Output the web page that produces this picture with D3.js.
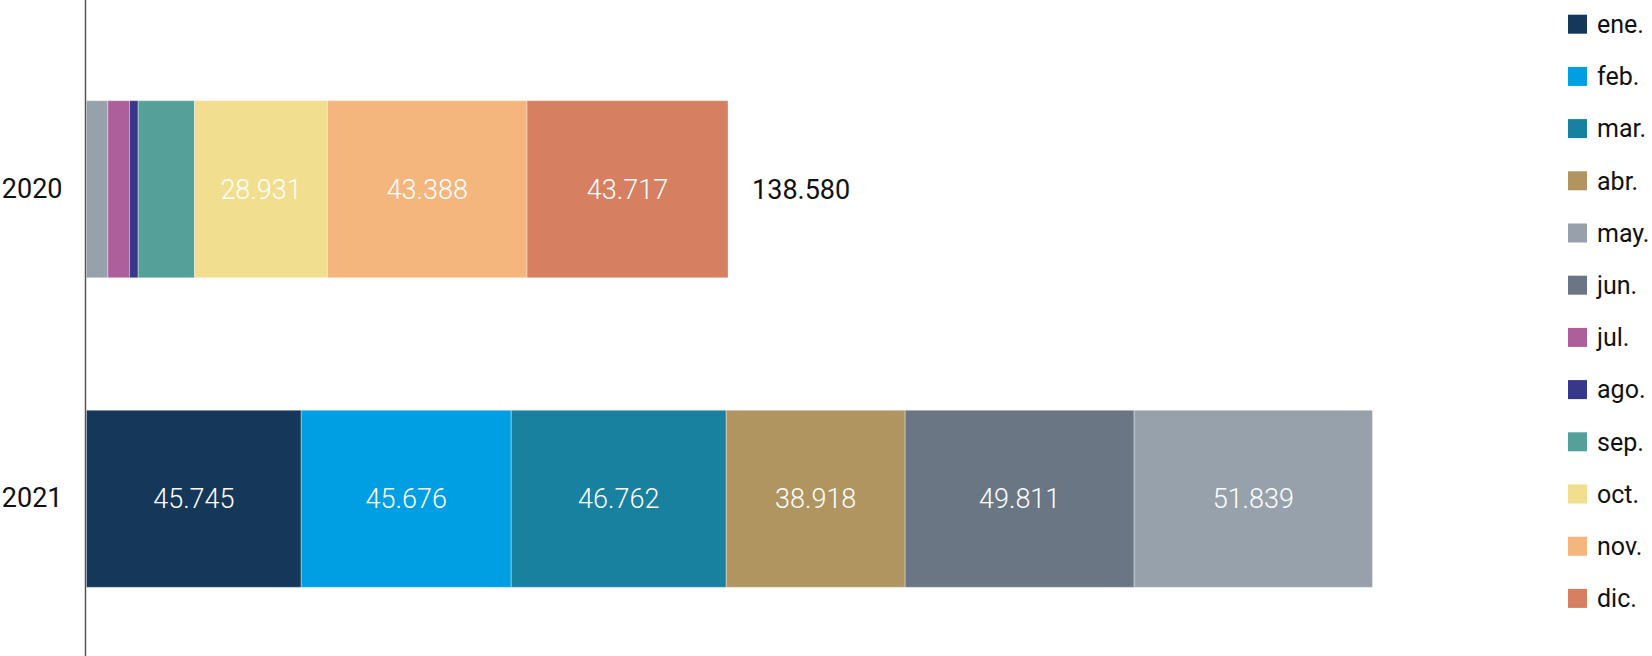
<!DOCTYPE html>
<html>
<head>
<meta charset="utf-8">
<script src="https://cdn.jsdelivr.net/npm/d3@7"></script>
<style>
  html, body { margin: 0; padding: 0; background: #fff; }
  svg { display: block; }
  text { font-family: Roboto, "Open Sans", sans-serif; }
</style>
</head>
<body>
<svg id="chart" width="1652" height="656"></svg>
<script>
// ---- data ----
const years = ["2020", "2021"];
const months = ["ene.", "feb.", "mar.", "abr.", "may.", "jun.", "jul.", "ago.", "sep.", "oct.", "nov.", "dic."];
const stackOrder = ["ene.", "feb.", "mar.", "abr.", "jun.", "may.", "jul.", "ago.", "sep.", "oct.", "nov.", "dic."];
const colors = ["#15375a", "#009fe3", "#17819f", "#b09561", "#97a1ac", "#6a7683", "#ac5f9a", "#37378b", "#55a19a", "#f2de8f", "#f4b67d", "#d67f61"];
const values2020 = [0, 0, 0, 0, 3690, 0, 4700, 1900, 12254, 28931, 43388, 43717];
const values2021 = [45745, 45676, 46762, 38918, 51839, 49811, 0, 0, 0, 0, 0, 0];
const totalLabels = ["138.580", null];
const labelMin = 20000;

const svg = d3.select("#chart");
const W = 1652, H = 656;
const axisX = 85.5;

const rows = [values2020, values2021].map((vals, i) => {
  const o = { year: years[i] };
  months.forEach((m, j) => o[m] = vals[j]);
  return o;
});
const stack = d3.stack().keys(stackOrder)(rows);

const maxTotal = d3.max(rows, r => d3.sum(months, m => r[m]));
const x = d3.scaleLinear().domain([0, maxTotal]).range([90.9, 1372.5]);
const y = d3.scaleBand().domain(years).range([7.8, 680.2]).paddingInner(0.428).paddingOuter(0.3);

const fmt = d3.formatLocale({ decimal: ",", thousands: ".", grouping: [3], currency: ["", " €"] }).format(",d");
const color = d3.scaleOrdinal().domain(months).range(colors);
const left = d => d[0] === 0 ? axisX + 1 : x(d[0]);

// bars
const g = svg.append("g");
stack.forEach(layer => {
  g.selectAll(null).data(layer.filter(d => d[1] - d[0] > 0)).enter()
    .append("rect")
    .attr("x", d => left(d))
    .attr("y", d => y(d.data.year))
    .attr("width", d => x(d[1]) - left(d))
    .attr("height", y.bandwidth())
    .attr("fill", color(layer.key))
    .attr("stroke", "rgba(255,255,255,0.35)")
    .attr("stroke-width", 1);
  g.selectAll(null).data(layer.filter(d => d[1] - d[0] >= labelMin)).enter()
    .append("text")
    .attr("x", d => (left(d) + x(d[1])) / 2)
    .attr("y", d => y(d.data.year) + y.bandwidth() / 2)
    .attr("dy", "0.35em")
    .attr("text-anchor", "middle")
    .attr("fill", "#fff")
    .attr("font-size", 27)
    .attr("font-weight", 300)
    .text(d => fmt(d[1] - d[0]));
});

// totals
rows.forEach((r, i) => {
  if (!totalLabels[i]) return;
  svg.append("text")
    .attr("x", x(d3.sum(months, m => r[m])) + 24)
    .attr("y", y(r.year) + y.bandwidth() / 2)
    .attr("dy", "0.35em")
    .attr("fill", "#111")
    .attr("font-size", 27)
    .text(totalLabels[i]);
});

// y axis
const yAxis = svg.append("g").attr("transform", `translate(${axisX},0)`)
  .call(d3.axisLeft(y).tickSize(0).tickPadding(23));
yAxis.select(".domain").remove();
yAxis.append("line").attr("x1", 0).attr("x2", 0).attr("y1", 0).attr("y2", H)
  .attr("stroke", "#555").attr("stroke-width", 1.5);
yAxis.selectAll(".tick text").attr("font-size", 27).attr("fill", "#111")
  .attr("font-family", "Roboto, sans-serif");

// legend
const legend = svg.append("g").attr("transform", "translate(1568,0)");
const ly = d3.scalePoint().domain(months).range([24.2, 598.4]);
const items = legend.selectAll("g").data(months).enter().append("g")
  .attr("transform", d => `translate(0,${ly(d)})`);
items.append("rect").attr("x", 0).attr("y", -9.5).attr("width", 19).attr("height", 19)
  .attr("fill", d => color(d));
items.append("text").attr("x", 29).attr("y", 0).attr("dy", "0.35em")
  .attr("font-size", 25).attr("fill", "#111").text(d => d);
</script>
</body>
</html>
